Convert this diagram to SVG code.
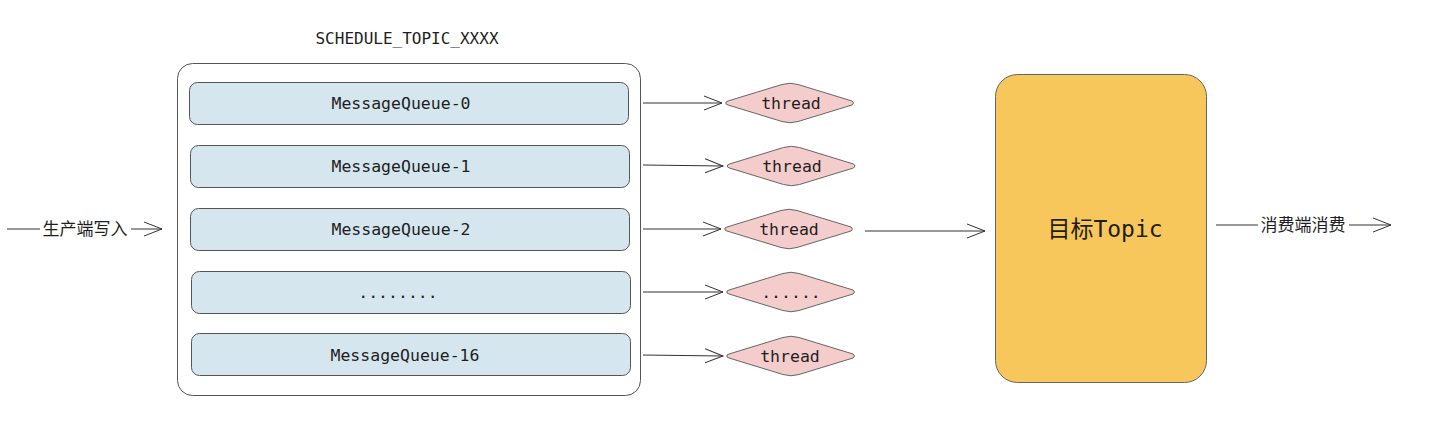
<svg xmlns="http://www.w3.org/2000/svg" width="1441" height="422" viewBox="0 0 1441 422">
<style>
.mono{font-family:"DejaVu Sans Mono","Liberation Mono",monospace;fill:#1e1e1e;}
.cjk{font-family:"Noto Sans CJK SC","Noto Sans",sans-serif;fill:#1e1e1e;}
.mq{fill:#d5e6ee;stroke:#555;stroke-width:1;}
.th{fill:#f4cccb;stroke:#666;stroke-width:1;}
.ln{stroke:#333;stroke-width:1;fill:none;}
</style>
<defs>
<marker id="ah" markerWidth="20" markerHeight="16" refX="18" refY="8" orient="auto" markerUnits="userSpaceOnUse">
<path d="M0,1 L18,8 L0,15" fill="none" stroke="#333" stroke-width="1"/>
</marker>
<path id="dia" d="M-64,0 Q-65,-1 -62,-2 L-8,-18.5 Q0,-21 8,-18.5 L62,-2 Q65,0 62,2 L8,18.5 Q0,21 -8,18.5 L-62,2 Q-65,1 -64,0Z"/>
</defs>
<rect width="1441" height="422" fill="#fff"/>
<text class="mono" x="407" y="44" font-size="16" text-anchor="middle">SCHEDULE_TOPIC_XXXX</text>
<g id="container"><rect x="177.5" y="63.5" width="463" height="332" rx="15" fill="#fff" stroke="#555"/></g>
<g id="mq0"><rect class="mq" x="189.5" y="82.5" width="439" height="42" rx="8"/><text class="mono" x="401" y="109" font-size="16.5" text-anchor="middle">MessageQueue-0</text></g>
<g id="mq1"><rect class="mq" x="190.5" y="145.5" width="439" height="42" rx="8"/><text class="mono" x="401" y="172" font-size="16.5" text-anchor="middle">MessageQueue-1</text></g>
<g id="mq2"><rect class="mq" x="190.5" y="208.5" width="439" height="42" rx="8"/><text class="mono" x="401" y="235" font-size="16.5" text-anchor="middle">MessageQueue-2</text></g>
<g id="mqdots"><rect class="mq" x="191.5" y="271.5" width="439" height="42" rx="8"/><text class="mono" x="398" y="298" font-size="16.5" text-anchor="middle">........</text></g>
<g id="mq16"><rect class="mq" x="191.5" y="333.5" width="439" height="42" rx="8"/><text class="mono" x="405" y="361" font-size="16.5" text-anchor="middle">MessageQueue-16</text></g>
<g id="th0"><use href="#dia" class="th" x="790" y="103"/><text class="mono" x="791" y="109" font-size="16.5" text-anchor="middle">thread</text></g>
<g id="th1"><use href="#dia" class="th" x="791.5" y="166"/><text class="mono" x="792" y="172" font-size="16.5" text-anchor="middle">thread</text></g>
<g id="th2"><use href="#dia" class="th" x="789" y="229"/><text class="mono" x="789" y="235" font-size="16.5" text-anchor="middle">thread</text></g>
<g id="thdots"><use href="#dia" class="th" x="791" y="292"/><text class="mono" x="791" y="298" font-size="16.5" text-anchor="middle">......</text></g>
<g id="th16"><use href="#dia" class="th" x="791" y="356"/><text class="mono" x="790" y="362" font-size="16.5" text-anchor="middle">thread</text></g>
<g id="topic"><rect x="995.5" y="74.5" width="211" height="308" rx="22" fill="#f7c75c" stroke="#666"/><text x="1105" y="237" font-size="23" text-anchor="middle"><tspan class="cjk">目标</tspan><tspan class="mono">Topic</tspan></text></g>
<g id="connectors">
<line class="ln" x1="643" y1="103" x2="722" y2="103" marker-end="url(#ah)"/>
<line class="ln" x1="643" y1="165" x2="723" y2="166" marker-end="url(#ah)"/>
<line class="ln" x1="643" y1="229" x2="721" y2="229" marker-end="url(#ah)"/>
<line class="ln" x1="643" y1="292" x2="723" y2="292" marker-end="url(#ah)"/>
<line class="ln" x1="643" y1="355" x2="723" y2="356" marker-end="url(#ah)"/>
<line class="ln" x1="865" y1="231" x2="985" y2="231" marker-end="url(#ah)"/>
<line class="ln" x1="7" y1="229" x2="40" y2="229"/>
<line class="ln" x1="131" y1="229" x2="162" y2="229" marker-end="url(#ah)"/>
<text class="cjk" x="85" y="235" font-size="17" text-anchor="middle">生产端写入</text>
<line class="ln" x1="1216" y1="225" x2="1258" y2="225"/>
<line class="ln" x1="1349" y1="225" x2="1391" y2="225" marker-end="url(#ah)"/>
<text class="cjk" x="1303" y="231" font-size="17" text-anchor="middle">消费端消费</text>
</g>
</svg>
